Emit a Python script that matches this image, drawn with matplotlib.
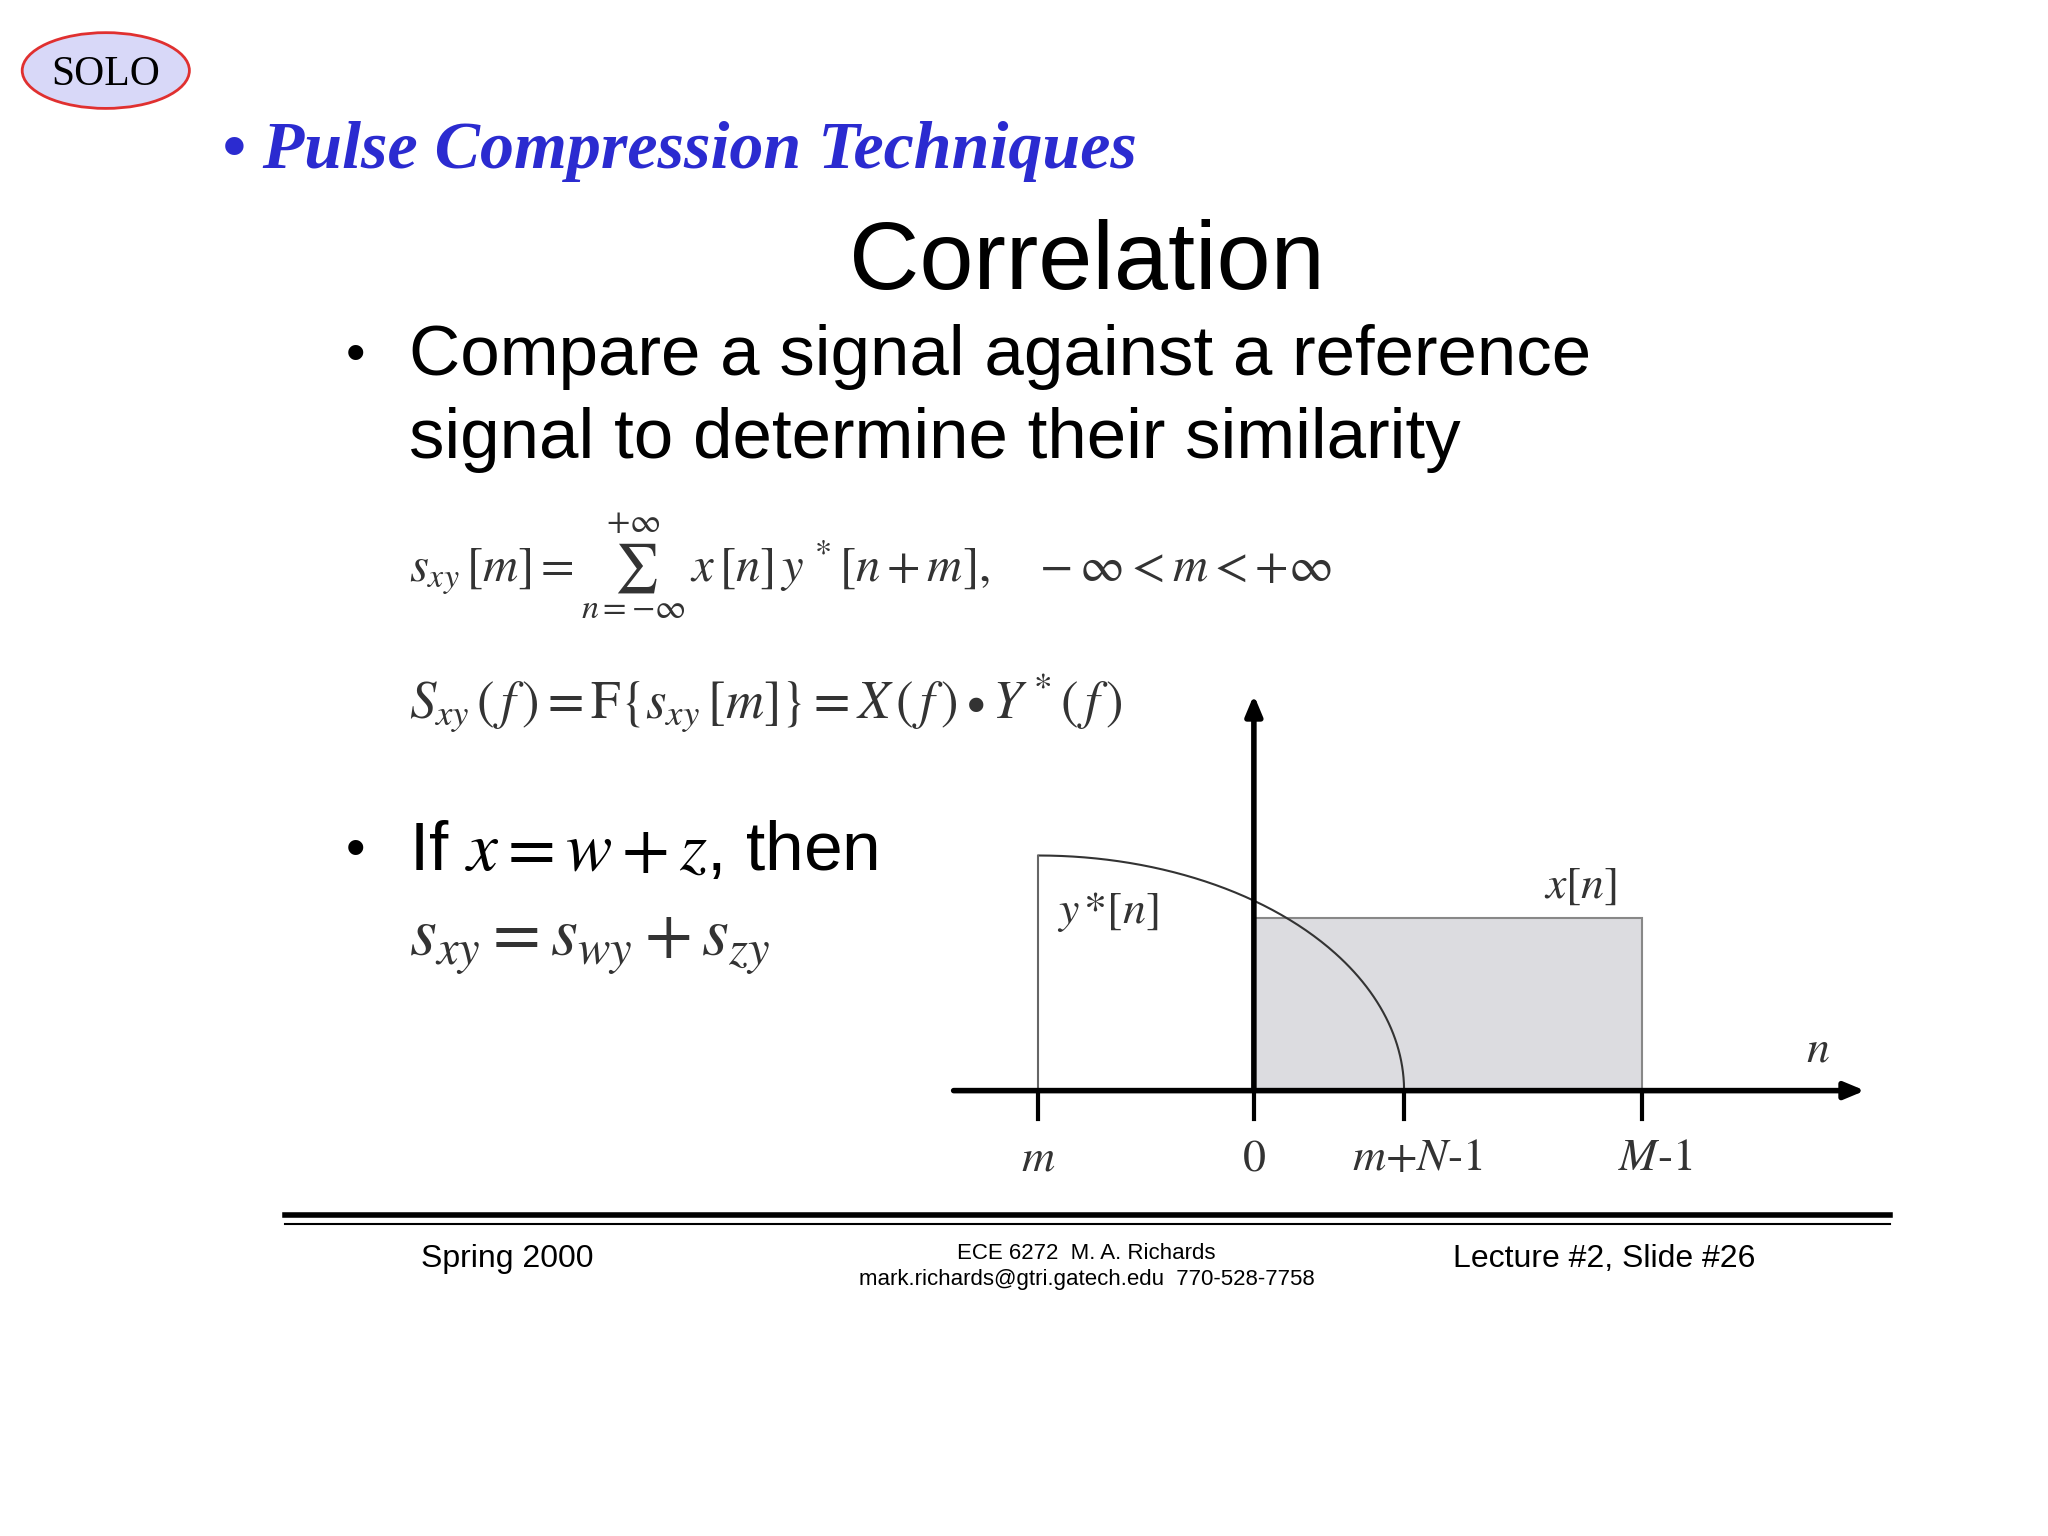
import numpy as np
import matplotlib
matplotlib.use("Agg")
import matplotlib.pyplot as plt
from matplotlib.patches import Ellipse, Rectangle

plt.rcParams['mathtext.fontset'] = 'stix'

# diagram values (in slide pixel coordinates)
axis_y = 835
tick_x = [795, 960, 1075, 1257]
tick_labels = [r'$m$', r'$0$', r'$m{+}N$-1', r'$M$-1']
rect_x = [960, 1257]
rect_top = 703
curve_left, curve_right, curve_top = 795, 1075, 655

fig = plt.figure(figsize=(20.48, 15.36), dpi=100)
ax = fig.add_axes([0, 0, 1, 1])
ax.set_xlim(0, 1568)
ax.set_ylim(1176, 0)
ax.axis('off')

# SOLO logo
ax.add_patch(Ellipse((81, 54), 128, 58, facecolor='#d8d8f8', edgecolor='#e03030', lw=2))
ax.text(81, 57, 'SOLO', fontsize=30, family='Liberation Serif', ha='center', va='center')

ax.text(170, 116, '• Pulse Compression Techniques', fontsize=49, family='Liberation Serif',
        style='italic', weight='bold', color='#2b2bd0', va='center')

ax.text(832, 202, 'Correlation', fontsize=70, family='Liberation Sans', ha='center', va='center')
ax.text(265, 273, '•', fontsize=40, family='Liberation Sans', va='center')
ax.text(313, 273, 'Compare a signal against a reference', fontsize=51, family='Liberation Sans', va='center')
ax.text(313, 337, 'signal to determine their similarity', fontsize=51, family='Liberation Sans', va='center')

ax.text(313, 433, r'$s_{xy}\,[m]=\sum_{n=-\infty}^{+\infty}\,x\,[n]\,y\,^*[n+m],\quad -\infty<m<+\infty$',
        fontsize=35, va='center', color='#333333')
ax.text(313, 538, r'$S_{xy}\,(\,f\,)=\mathrm{F}\{s_{xy}\,[m]\}=X\,(\,f\,)\bullet Y\,^*(\,f\,)$',
        fontsize=38, va='center', color='#333333')

ax.text(265, 652, '•', fontsize=40, family='Liberation Sans', va='center')
ax.text(313, 652, r'If $x = w + z$, then', fontsize=50, family='Liberation Sans', va='center')
ax.text(313, 722, r'$s_{xy} = s_{wy} + s_{zy}$', fontsize=50, va='center', color='#333333')

# diagram
ax.add_patch(Rectangle((rect_x[0], rect_top), rect_x[1] - rect_x[0], axis_y - rect_top,
                       facecolor='#dcdce0', edgecolor='#888888', lw=1.5))
t = np.linspace(0, np.pi / 2, 200)
cx = curve_left + (curve_right - curve_left) * np.sin(t)
cy = axis_y - (axis_y - curve_top) * np.cos(t)
ax.plot(cx, cy, color='#333333', lw=1.5)
ax.plot([curve_left, curve_left], [curve_top, axis_y], color='#666666', lw=1.5)
ax.annotate('', xy=(1430, axis_y), xytext=(728, axis_y),
            arrowprops=dict(arrowstyle='-|>,head_length=1.2,head_width=0.5', lw=4, color='black'))
ax.annotate('', xy=(960, 530), xytext=(960, axis_y),
            arrowprops=dict(arrowstyle='-|>,head_length=1.2,head_width=0.5', lw=4, color='black'))
for x, lab in zip(tick_x, tick_labels):
    ax.plot([x, x], [axis_y, axis_y + 22], color='black', lw=3)
    ax.text(x + (10 if x > 1000 else 0), 888, lab, fontsize=33, family='STIXGeneral',
            ha='center', va='center', color='#333333')
ax.text(848, 698, r'$y\,$*$[n]$', fontsize=33, family='STIXGeneral', ha='center', va='center', color='#333333')
ax.text(1210, 678, r'$x[n]$', fontsize=33, ha='center', va='center', color='#333333')
ax.text(1392, 803, r'$n$', fontsize=33, ha='center', va='center', color='#333333')

# footer
ax.plot([218, 1447], [930, 930], color='black', lw=4)
ax.plot([218, 1447], [937, 937], color='black', lw=1.5)
ax.text(388, 964, 'Spring 2000', fontsize=23, family='Liberation Sans', ha='center', va='center')
ax.text(832, 960, 'ECE 6272  M. A. Richards', fontsize=16, family='Liberation Sans', ha='center', va='center')
ax.text(832, 980, 'mark.richards@gtri.gatech.edu  770-528-7758', fontsize=16, family='Liberation Sans', ha='center', va='center')
ax.text(1228, 964, 'Lecture #2, Slide #26', fontsize=23, family='Liberation Sans', ha='center', va='center')

fig.savefig('out.png', dpi=100)
